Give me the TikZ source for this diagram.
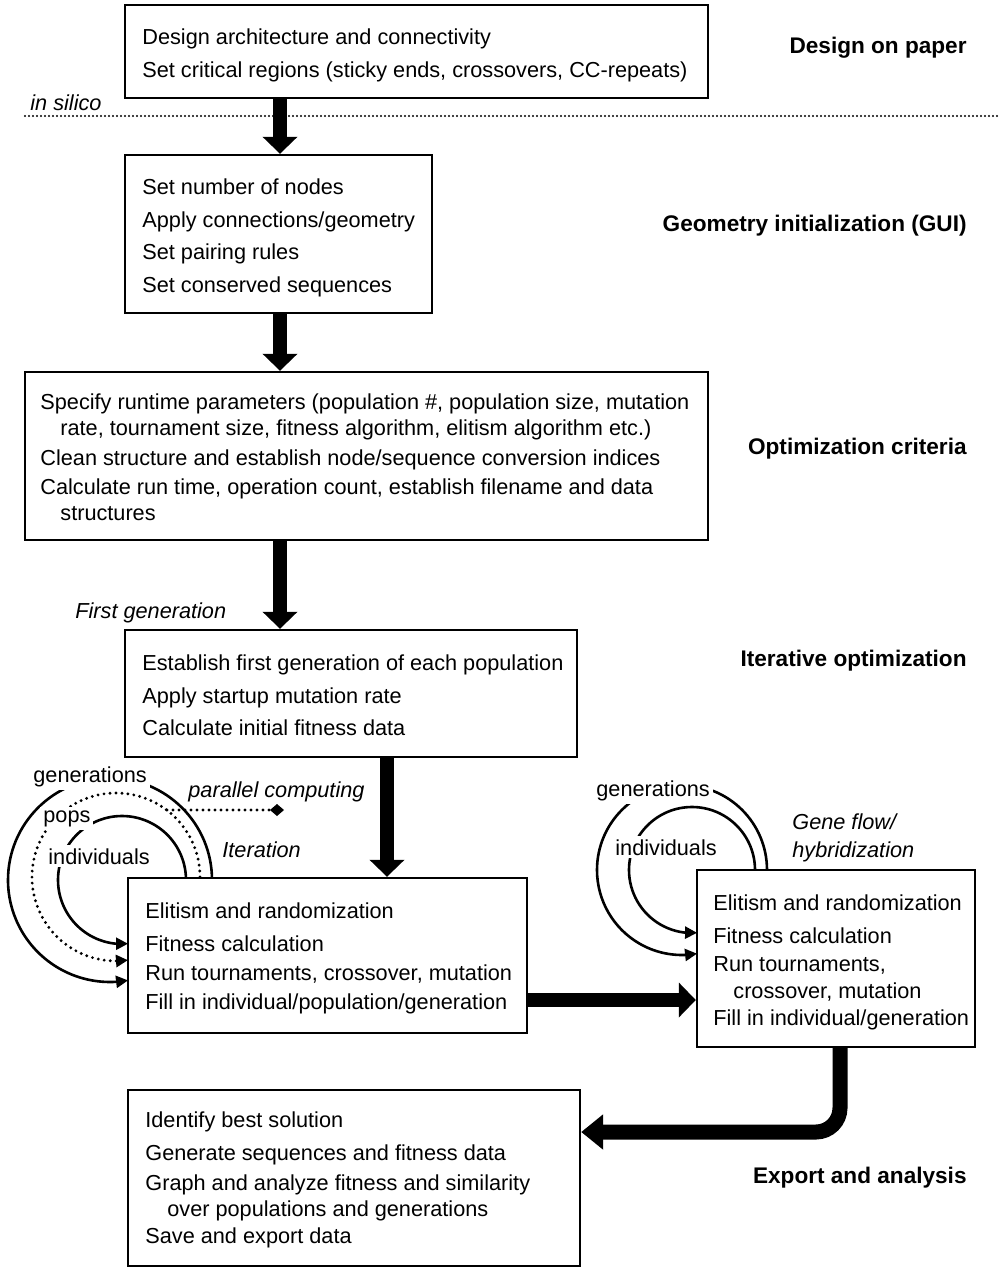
\documentclass[tikz,border=0pt]{standalone}
\usepackage{fontspec}
\setmainfont{Liberation Sans}
\usetikzlibrary{arrows.meta,fit,calc,backgrounds,bending}
\begin{document}
\begin{tikzpicture}[x=0.5pt,y=-0.5pt,
  box/.style={draw, line width=1.2pt, fill=white, inner sep=0pt},
  txt/.style={anchor=base west, inner sep=0pt, font=\fontsize{10.85}{13}\selectfont},
  ttl/.style={anchor=base east, inner sep=0pt, font=\fontsize{11.3}{13}\selectfont\bfseries},
  itl/.style={anchor=base west, inner sep=0pt, font=\fontsize{10.85}{13}\selectfont\itshape},
  lbl/.style={anchor=base west, inner sep=1.5pt, fill=white, font=\fontsize{10.85}{13}\selectfont},
  bigarrow/.style={line width=7pt, -{Triangle[width=17pt,length=8.5pt]}},
  looparrow/.style={line width=1.3pt, -{Triangle[width=6pt,length=6pt]}},
  dotline/.style={line width=1.6pt, dash pattern=on 0pt off 3pt, line cap=round},
]
\useasboundingbox (0,0) rectangle (1000,1274);

% boxes
\node[box, fit={(125,5) (708,98)}] (b1) {};
\node[box, fit={(125,155) (432,313)}] (b2) {};
\node[box, fit={(25,372) (708,540)}] (b3) {};
\node[box, fit={(125,630) (577,757)}] (b4) {};
\node[box, fit={(128,878) (527,1033)}] (b5) {};
\node[box, fit={(697,870) (975,1047)}] (b6) {};
\node[box, fit={(128,1090) (580,1266)}] (b7) {};

% box texts
\node[txt] (t11) at (142,44) {Design architecture and connectivity};
\node[txt] (t12) at (142,77) {Set critical regions (sticky ends, crossovers, CC-repeats)};

\node[txt] (t21) at (142,194) {Set number of nodes};
\node[txt] (t22) at (142,227) {Apply connections/geometry};
\node[txt] (t23) at (142,259) {Set pairing rules};
\node[txt] (t24) at (142,292) {Set conserved sequences};

\node[txt] (t31) at (40,409) {Specify runtime parameters (population \#, population size, mutation};
\node[txt] (t32) at (60,435) {rate, tournament size, fitness algorithm, elitism algorithm etc.)};
\node[txt] (t33) at (40,465) {Clean structure and establish node/sequence conversion indices};
\node[txt] (t34) at (40,494) {Calculate run time, operation count, establish filename and data};
\node[txt] (t35) at (60,520) {structures};

\node[txt] (t41) at (142,670) {Establish first generation of each population};
\node[txt] (t42) at (142,703) {Apply startup mutation rate};
\node[txt] (t43) at (142,735) {Calculate initial fitness data};

\node[txt] (t51) at (145,918) {Elitism and randomization};
\node[txt] (t52) at (145,951) {Fitness calculation};
\node[txt] (t53) at (145,980) {Run tournaments, crossover, mutation};
\node[txt] (t54) at (145,1009) {Fill in individual/population/generation};

\node[txt] (t61) at (713,910) {Elitism and randomization};
\node[txt] (t62) at (713,943) {Fitness calculation};
\node[txt] (t63) at (713,971) {Run tournaments,};
\node[txt] (t64) at (733,998) {crossover, mutation};
\node[txt] (t65) at (713,1025) {Fill in individual/generation};

\node[txt] (t71) at (145,1127) {Identify best solution};
\node[txt] (t72) at (145,1160) {Generate sequences and fitness data};
\node[txt] (t73) at (145,1190) {Graph and analyze fitness and similarity};
\node[txt] (t74) at (167,1216) {over populations and generations};
\node[txt] (t75) at (145,1243) {Save and export data};

% titles
\node[ttl] (s1) at (967,54) {Design on paper};
\node[ttl] (s2) at (967,231) {Geometry initialization (GUI)};
\node[ttl] (s3) at (967,454) {Optimization criteria};
\node[ttl] (s4) at (967,666) {Iterative optimization};
\node[ttl] (s5) at (967,1183) {Export and analysis};

% italic labels
\node[itl] (insilico) at (30,110) {in silico};
\node[itl] (firstgen) at (75,618) {First generation};
\node[itl] (parcomp) at (188,797) {parallel computing};
\node[itl] (iter) at (222,857) {Iteration};
\node[itl] (gf1) at (792,829) {Gene flow/};
\node[itl] (gf2) at (792,857) {hybridization};

% loop labels
\node[lbl] (lgen) at (30,782) {generations};
\node[lbl] (lpops) at (40,822) {pops};
\node[lbl] (lind) at (45,864) {individuals};
\node[lbl] (rgen) at (593,796) {generations};
\node[lbl] (rind) at (612,855) {individuals};

% dotted separator
\coordinate (d0) at (25,116);
\coordinate (d1) at (1000,116);
\draw[line width=1.1pt, dash pattern=on 0pt off 2pt, line cap=round] (d0) -- (d1);

% thick arrows
\coordinate (v1) at (280,0);
\coordinate (v4) at (387,0);
\coordinate (v6) at (840,0);
\coordinate (h5) at (0,1000);
\coordinate (h7) at (0,1132);
\draw[bigarrow] (b1.south -| v1) -- (b2.north -| v1);
\draw[bigarrow] (b2.south -| v1) -- (b3.north -| v1);
\draw[bigarrow] (b3.south -| v1) -- (b4.north -| v1);
\draw[bigarrow] (b4.south -| v4) -- (b5.north -| v4);
\draw[bigarrow] (b5.east |- h5) -- (b6.west |- h5);
\draw[bigarrow, line width=7.5pt, rounded corners=12pt, -{Triangle[width=17pt,length=11pt]}] (b6.south -| v6) |- (b7.east |- h7);

% loops (behind boxes and labels)
\begin{pgfonlayer}{background}
  \draw[looparrow] (212,880) arc[start angle=0, end angle=-280.2, radius=102];
  \draw[looparrow, dotline] (200,877) arc[start angle=0, end angle=-278.2, radius=84];
  \draw[looparrow] (186,880) arc[start angle=0, end angle=-275.4, radius=64];
  \draw[looparrow] (767,870) arc[start angle=0, end angle=-280.2, radius=85];
  \draw[looparrow] (755,870) arc[start angle=0, end angle=-274.6, radius=63];
  \coordinate (pcs) at (167,810);
  \coordinate (pce) at (284,810);
  \draw[dotline, -{Diamond[length=7pt,width=6pt]}] (pcs) -- (pce);
\end{pgfonlayer}
\end{tikzpicture}
\end{document}
